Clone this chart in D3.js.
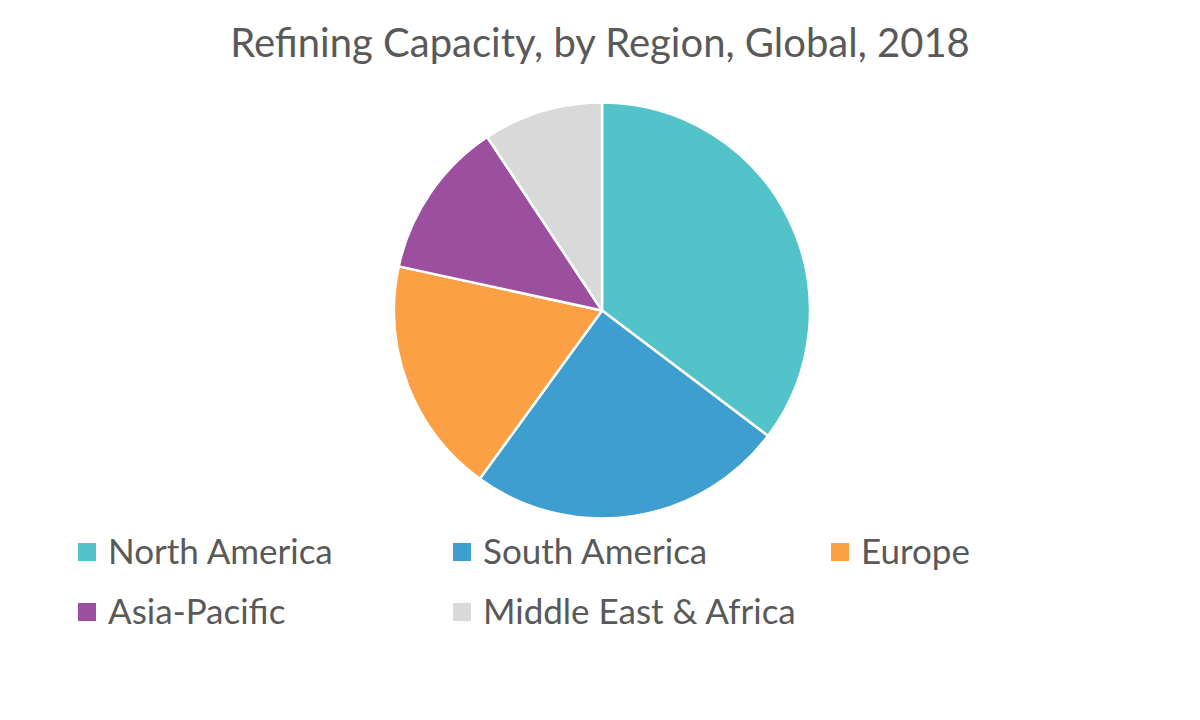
<!DOCTYPE html>
<html><head><meta charset="utf-8">
<script src="https://cdn.jsdelivr.net/npm/d3@7"></script>
<style>body{margin:0;background:#fff;}svg{display:block;}</style>
</head><body>
<script>
const categories = ["North America", "South America", "Europe", "Asia-Pacific", "Middle East & Africa"];
const values = [35.3, 24.7, 18.4, 12.3, 9.3];
const colors = ["#52C3C9", "#3D9ECF", "#FCA045", "#9B4F9E", "#D9D9D9"];
const title = "Refining Capacity, by Region, Global, 2018";

const W = 1200, H = 720;
const svg = d3.select("body").append("svg").attr("width", W).attr("height", H);
const font = "Lato, 'Open Sans', sans-serif";

svg.append("text").attr("x", 600).attr("y", 57).attr("text-anchor", "middle")
  .attr("font-family", font).attr("font-size", 40).attr("fill", "#595959").text(title);

const data = categories.map((c, i) => ({name: c, value: values[i], color: colors[i]}));
const pie = d3.pie().value(d => d.value).sort(null);
const arc = d3.arc().innerRadius(0).outerRadius(208);
const g = svg.append("g").attr("transform", "translate(602,310.5)");
g.selectAll("path").data(pie(data)).join("path")
  .attr("d", arc).attr("fill", d => d.data.color)
  .attr("stroke", "#fff").attr("stroke-width", 2.5).attr("stroke-linejoin", "round");

const colX = [78, 453, 831];
const rowY = [552, 612];
const leg = svg.append("g");
data.forEach((d, i) => {
  const x = colX[i % 3], y = rowY[Math.floor(i / 3)];
  leg.append("rect").attr("x", x).attr("y", y - 9).attr("width", 18).attr("height", 18).attr("fill", d.color);
  leg.append("text").attr("x", x + 30).attr("y", y).attr("dy", "0.35em")
    .attr("font-family", font).attr("font-size", 35).attr("fill", "#595959").text(d.name);
});
</script>
</body></html>
